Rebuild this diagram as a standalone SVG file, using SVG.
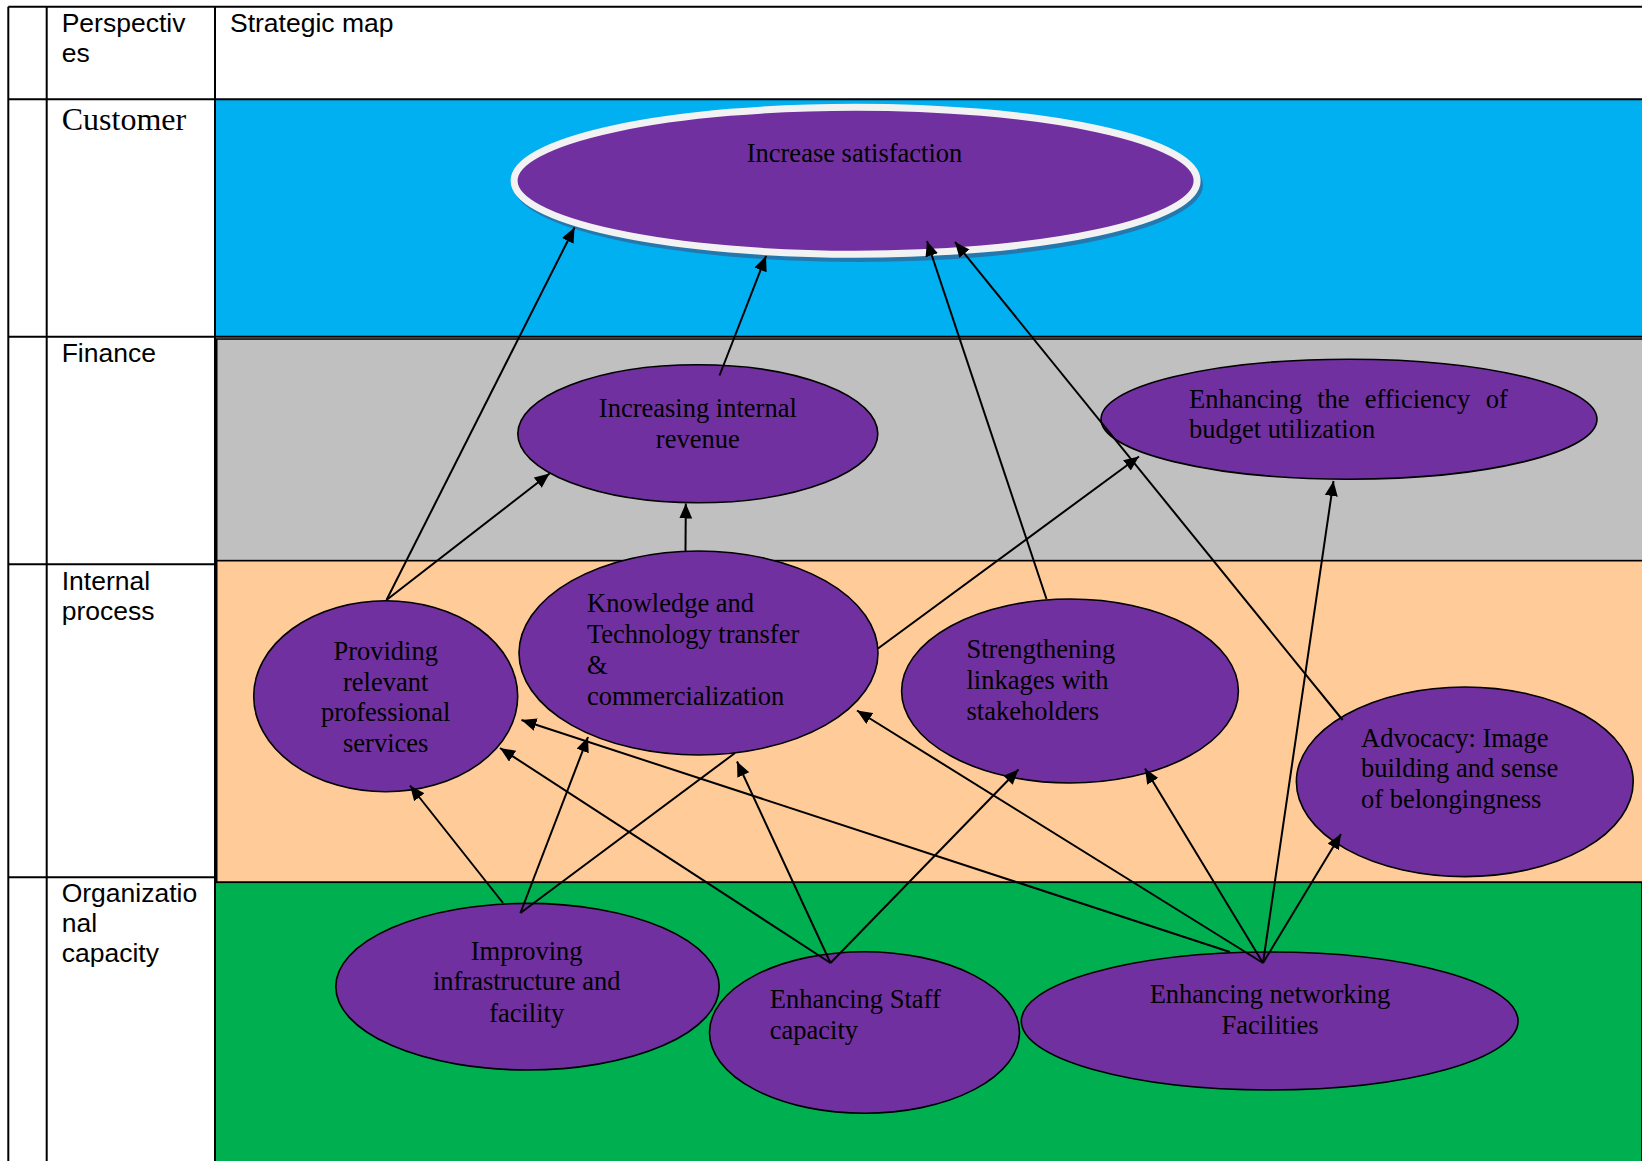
<svg xmlns="http://www.w3.org/2000/svg" width="1642" height="1161" viewBox="0 0 1642 1161">
<style>
.tl{stroke:#000;stroke-width:2;fill:none}
.lbl{font-family:"Liberation Sans",Arial,sans-serif;font-size:26.5px;fill:#000}
.node{fill:#7030A0;stroke:#000;stroke-width:1.6}
.nt{font-family:"Liberation Serif","Times New Roman",serif;font-size:26.5px;fill:#000}
.c{text-anchor:middle}
.con line{stroke:#000;stroke-width:2;marker-end:url(#ah)}
.con line.plain{marker-end:none}
</style>
<defs>
<marker id="ah" markerUnits="userSpaceOnUse" markerWidth="16" markerHeight="14" refX="15" refY="6.5" orient="auto">
<path d="M0,0 L15,6.5 L0,13 z" fill="#000"/>
</marker>
</defs>
<rect x="0" y="0" width="1642" height="1161" fill="#fff"/>
<g id="bands">
<rect x="215" y="99.3" width="1427" height="237.4" fill="#00B0F0"/>
<rect x="216.7" y="339" width="1430" height="221.7" fill="#C0C0C0" stroke="#000" stroke-width="1.6"/>
<rect x="216.7" y="560.7" width="1430" height="321.6" fill="#FFCC99" stroke="#000" stroke-width="1.6"/>
<rect x="215" y="882.3" width="1427" height="280" fill="#00B050" stroke="#000" stroke-width="1.6"/>
</g>
<g id="table">
<line class="tl" x1="8.3" y1="6.7" x2="1642" y2="6.7"/>
<line class="tl" x1="8.3" y1="99.3" x2="1642" y2="99.3"/>
<line class="tl" x1="8.3" y1="336.7" x2="1642" y2="336.7"/>
<line class="tl" x1="8.3" y1="564.3" x2="215" y2="564.3"/>
<line class="tl" x1="8.3" y1="877.3" x2="215" y2="877.3"/>
<line class="tl" x1="8.3" y1="6.7" x2="8.3" y2="1161"/>
<line class="tl" x1="46.7" y1="6.7" x2="46.7" y2="1161"/>
<line class="tl" x1="215" y1="6.7" x2="215" y2="1161"/>
<text class="lbl" x="61.7" y="32.3">Perspectiv</text>
<text class="lbl" x="61.7" y="62.3">es</text>
<text class="lbl" x="230" y="32.3">Strategic map</text>
<text x="61.7" y="130" font-family="'Liberation Serif','Times New Roman',serif" font-size="32" fill="#000">Customer</text>
<text class="lbl" x="61.7" y="361.7">Finance</text>
<text class="lbl" x="61.7" y="590">Internal</text>
<text class="lbl" x="61.7" y="620">process</text>
<text class="lbl" x="61.7" y="901.7">Organizatio</text>
<text class="lbl" x="61.7" y="931.7">nal</text>
<text class="lbl" x="61.7" y="961.7">capacity</text>
</g>
<g id="n-satisfaction">
<ellipse cx="858" cy="185" rx="345" ry="77" fill="#2478ad"/>
<ellipse cx="855.6" cy="180.7" rx="341.5" ry="73.5" fill="#7030A0" stroke="#F2F2F2" stroke-width="7"/>
<text class="nt c" x="854.5" y="161.7">Increase satisfaction</text>
</g>
<g id="n-revenue">
<ellipse class="node" cx="697.8" cy="433.8" rx="180" ry="69"/>
<text class="nt c" x="697.8" y="417.3">Increasing internal</text>
<text class="nt c" x="697.8" y="448.3">revenue</text>
</g>
<g id="n-budget">
<ellipse class="node" cx="1349" cy="419.2" rx="248" ry="60"/>
<text class="nt" y="408.3"><tspan x="1189">Enhancing</tspan><tspan x="1317.2">the</tspan><tspan x="1364.7">efficiency</tspan><tspan x="1485.7">of</tspan></text>
<text class="nt" x="1189" y="438.3">budget utilization</text>
</g>
<g id="n-providing">
<ellipse class="node" cx="385.7" cy="696.3" rx="132" ry="95.5"/>
<text class="nt c" x="385.7" y="660">Providing</text>
<text class="nt c" x="385.7" y="690.5">relevant</text>
<text class="nt c" x="385.7" y="721">professional</text>
<text class="nt c" x="385.7" y="751.5">services</text>
</g>
<g id="n-knowledge">
<ellipse class="node" cx="698.5" cy="653" rx="179.5" ry="102"/>
<text class="nt" x="587" y="612">Knowledge and</text>
<text class="nt" x="587" y="643">Technology transfer</text>
<text class="nt" x="587" y="674">&amp;</text>
<text class="nt" x="587" y="705">commercialization</text>
</g>
<g id="n-strengthening">
<ellipse class="node" cx="1070" cy="691" rx="168.4" ry="92"/>
<text class="nt" x="966.5" y="658.3">Strengthening</text>
<text class="nt" x="966.5" y="689">linkages with</text>
<text class="nt" x="966.5" y="720">stakeholders</text>
</g>
<g id="n-advocacy">
<ellipse class="node" cx="1464.8" cy="781.8" rx="168.4" ry="94.8"/>
<text class="nt" x="1361" y="746.7">Advocacy: Image</text>
<text class="nt" x="1361" y="777.3">building and sense</text>
<text class="nt" x="1361" y="808.3">of belongingness</text>
</g>
<g id="n-improving">
<ellipse class="node" cx="527.5" cy="986.7" rx="191.7" ry="83.3"/>
<text class="nt c" x="526.7" y="960">Improving</text>
<text class="nt c" x="526.7" y="990">infrastructure and</text>
<text class="nt c" x="526.7" y="1021.7">facility</text>
</g>
<g id="n-staff">
<ellipse class="node" cx="864.5" cy="1032.5" rx="155" ry="80.8"/>
<text class="nt" x="769.8" y="1007.7">Enhancing Staff</text>
<text class="nt" x="769.8" y="1039">capacity</text>
</g>
<g id="n-networking">
<ellipse class="node" cx="1269.7" cy="1021" rx="248.4" ry="69"/>
<text class="nt c" x="1270" y="1003.3">Enhancing networking</text>
<text class="nt c" x="1270" y="1034">Facilities</text>
</g>
<g id="connectors" class="con">
<line x1="386.5" y1="600" x2="574.5" y2="227.5"/>
<line x1="386.5" y1="600" x2="549.6" y2="473.5"/>
<line x1="685.5" y1="551" x2="685.8" y2="503.5"/>
<line x1="719.5" y1="375.5" x2="766" y2="256"/>
<line x1="1046.5" y1="599" x2="927" y2="241"/>
<line x1="1342.6" y1="720" x2="955" y2="242"/>
<line x1="878" y1="648.5" x2="1139" y2="456.5"/>
<line x1="1263" y1="963" x2="1333.5" y2="481"/>
<line x1="1263" y1="963" x2="1341" y2="834"/>
<line x1="1263" y1="963" x2="1145" y2="768.5"/>
<line x1="1263" y1="963" x2="857" y2="710.5"/>
<line x1="1230" y1="952" x2="521.5" y2="720"/>
<line x1="830.5" y1="963" x2="500" y2="748"/>
<line x1="830.5" y1="963" x2="737" y2="761.5"/>
<line x1="830.5" y1="963" x2="1018.5" y2="769.5"/>
<line x1="520.4" y1="913" x2="588" y2="737"/>
<line x1="503" y1="903" x2="410" y2="785.5"/>
<line class="plain" x1="735" y1="753" x2="520.4" y2="913"/>
</g>
</svg>
